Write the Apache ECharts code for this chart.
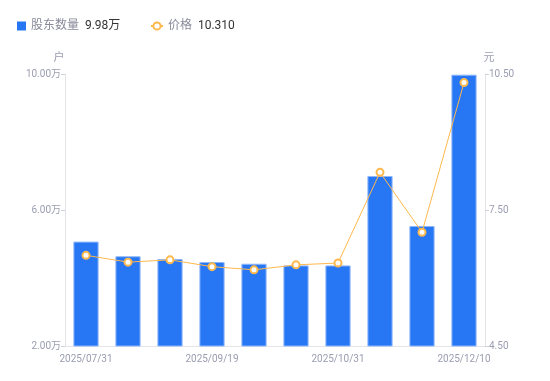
<!DOCTYPE html>
<html>
<head>
<meta charset="utf-8">
<script src="https://cdn.jsdelivr.net/npm/echarts@6/dist/echarts.min.js"></script>
<style>html,body{margin:0;padding:0;background:#fff}#c{width:550px;height:381px}</style>
</head>
<body>
<div id="c"></div>
<script>
var categories = ['2025/07/31','2025/08/20','2025/08/31','2025/09/19','2025/09/30','2025/10/20','2025/10/31','2025/11/10','2025/11/20','2025/12/10'];
var holders = [5.07, 4.64, 4.56, 4.47, 4.42, 4.37, 4.37, 7.00, 5.53, 9.98];
var prices = [6.50, 6.35, 6.40, 6.25, 6.18, 6.29, 6.33, 8.33, 7.01, 10.31];
var leftTicks = {min: 2, max: 10, interval: 4};
var rightTicks = {min: 4.5, max: 10.5, interval: 3};

var chart = echarts.init(document.getElementById('c'));
var font = 'Roboto, "Noto Sans CJK SC", sans-serif';
var axisGray = '#9a9db0';
function legendFmt(n) {
  if (n === '股东数量') return '{n|' + n + '}  {v|' + holders[holders.length - 1].toFixed(2) + '万}';
  return '{n|' + n + '}  {v|' + prices[prices.length - 1].toFixed(3) + '}';
}
var legendText = {
  fontFamily: font,
  rich: {
    n: {color: '#888a99', fontSize: 12, fontFamily: font},
    v: {color: '#333', fontSize: 12, fontFamily: font}
  }
};
chart.setOption({
  animation: false,
  textStyle: {fontFamily: font},
  legend: [{
    left: 12, top: 15, itemWidth: 9, itemHeight: 9,
    data: [{name: '股东数量', icon: 'rect', itemStyle: {color: '#2777f4', borderWidth: 0}}],
    formatter: legendFmt, textStyle: legendText
  }, {
    left: 145, top: 15, itemWidth: 12, itemHeight: 9,
    data: [{name: '价格'}],
    formatter: legendFmt, textStyle: legendText
  }],
  grid: {left: 65, right: 65, top: 74, bottom: 35},
  xAxis: {
    type: 'category', data: categories,
    axisLine: {lineStyle: {color: '#e3e3e8'}},
    axisTick: {show: false},
    axisLabel: {interval: 2, color: axisGray, fontSize: 10, margin: 8, fontFamily: font}
  },
  yAxis: [{
    type: 'value', name: '户', min: leftTicks.min, max: leftTicks.max, interval: leftTicks.interval,
    nameTextStyle: {color: axisGray, fontSize: 11, padding: [0, 12, 0, 0], fontFamily: font},
    nameGap: 10,
    axisLine: {show: true, lineStyle: {color: '#e3e3e8'}},
    axisTick: {show: true, length: 4, lineStyle: {color: '#d0d0d8'}},
    splitLine: {show: false},
    axisLabel: {color: axisGray, fontSize: 10, margin: 4, fontFamily: font,
      formatter: function (v) { return v.toFixed(2) + '万'; }}
  }, {
    type: 'value', name: '元', min: rightTicks.min, max: rightTicks.max, interval: rightTicks.interval,
    nameTextStyle: {color: axisGray, fontSize: 11, padding: [0, 0, 0, 8], fontFamily: font},
    nameGap: 10,
    axisLine: {show: true, lineStyle: {color: '#e3e3e8'}},
    axisTick: {show: true, length: 4, lineStyle: {color: '#d0d0d8'}},
    splitLine: {show: false},
    axisLabel: {color: axisGray, fontSize: 10, margin: 4, fontFamily: font,
      formatter: function (v) { return v.toFixed(2); }}
  }],
  series: [{
    name: '股东数量', type: 'bar', data: holders, barWidth: '60%', yAxisIndex: 0,
    itemStyle: {color: '#2777f4', borderColor: '#8fb7fa', borderWidth: 1}
  }, {
    name: '价格', type: 'line', data: prices, yAxisIndex: 1,
    symbol: 'circle', symbolSize: 7,
    itemStyle: {color: '#fff', borderColor: '#ffb84d', borderWidth: 2},
    lineStyle: {color: '#ffb84d', width: 1}
  }]
});
</script>
</body>
</html>
